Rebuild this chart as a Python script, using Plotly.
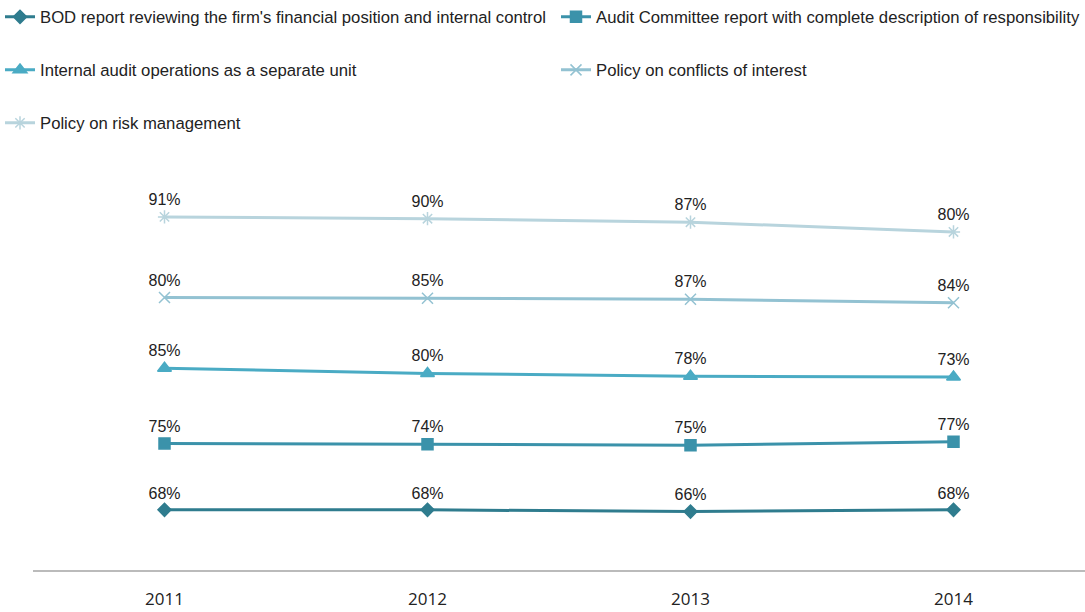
import plotly.graph_objects as go

years = ["2011", "2012", "2013", "2014"]

bod_report = [68, 68, 66, 68]
audit_committee = [75, 74, 75, 77]
internal_audit = [85, 80, 78, 73]
conflicts_policy = [80, 85, 87, 84]
risk_policy = [91, 90, 87, 80]

# name, values, colour, marker, marker size, legend id, legend position (px from top-left)
series = [
    ("BOD report reviewing the firm's financial position and internal control", bod_report, "#2F7C8E", "diamond", 10, "legend", (0, 17)),
    ("Audit Committee report with complete description of responsibility", audit_committee, "#3B92AA", "square", 11, "legend2", (556, 17)),
    ("Internal audit operations as a separate unit", internal_audit, "#4AABC4", "triangle-up", 12, "legend3", (0, 70)),
    ("Policy on conflicts of interest", conflicts_policy, "#93C2D2", "x-thin-open", 11, "legend4", (556, 70)),
    ("Policy on risk management", risk_policy, "#B8D4DD", "asterisk-open", 11, "legend5", (0, 123)),
]

label_font = "Liberation Sans, Arial, sans-serif"
W, H = 1085, 612

fig = go.Figure()
legends = {}
for name, vals, color, symbol, size, leg, (lx, ly) in series:
    fig.add_trace(go.Scatter(
        x=years, y=vals, name=name,
        stackgroup="one", fill="none",
        mode="lines+markers+text",
        line=dict(color=color, width=3),
        marker=dict(symbol=symbol, size=size, color=color, line=dict(color=color, width=1.5)),
        text=[f"{v}%" for v in vals],
        textposition="top center",
        textfont=dict(family=label_font, size=16, color="#222222"),
        legend=leg,
        hoverinfo="x+text+name",
    ))
    legends[leg] = dict(
        orientation="h", xref="container", yref="container",
        x=lx / W, y=1 - ly / H, xanchor="left", yanchor="middle",
        font=dict(family=label_font, size=16.7, color="#222222"),
        bgcolor="rgba(0,0,0,0)", itemclick=False,
    )

fig.update_layout(
    width=W, height=H,
    margin=dict(l=33, r=0, t=150, b=42),
    paper_bgcolor="white", plot_bgcolor="white",
    xaxis=dict(
        type="category", showline=True, linecolor="#BBBBBB", linewidth=2,
        showgrid=False, zeroline=False, ticks="", ticklabelstandoff=13,
        tickfont=dict(family="Open Sans, sans-serif", size=17, color="#222222"),
        range=[-0.5, 3.5],
    ),
    yaxis=dict(visible=False, range=[0, 474.6], fixedrange=True),
    showlegend=True,
    **legends,
)

fig.write_html("out.html")
